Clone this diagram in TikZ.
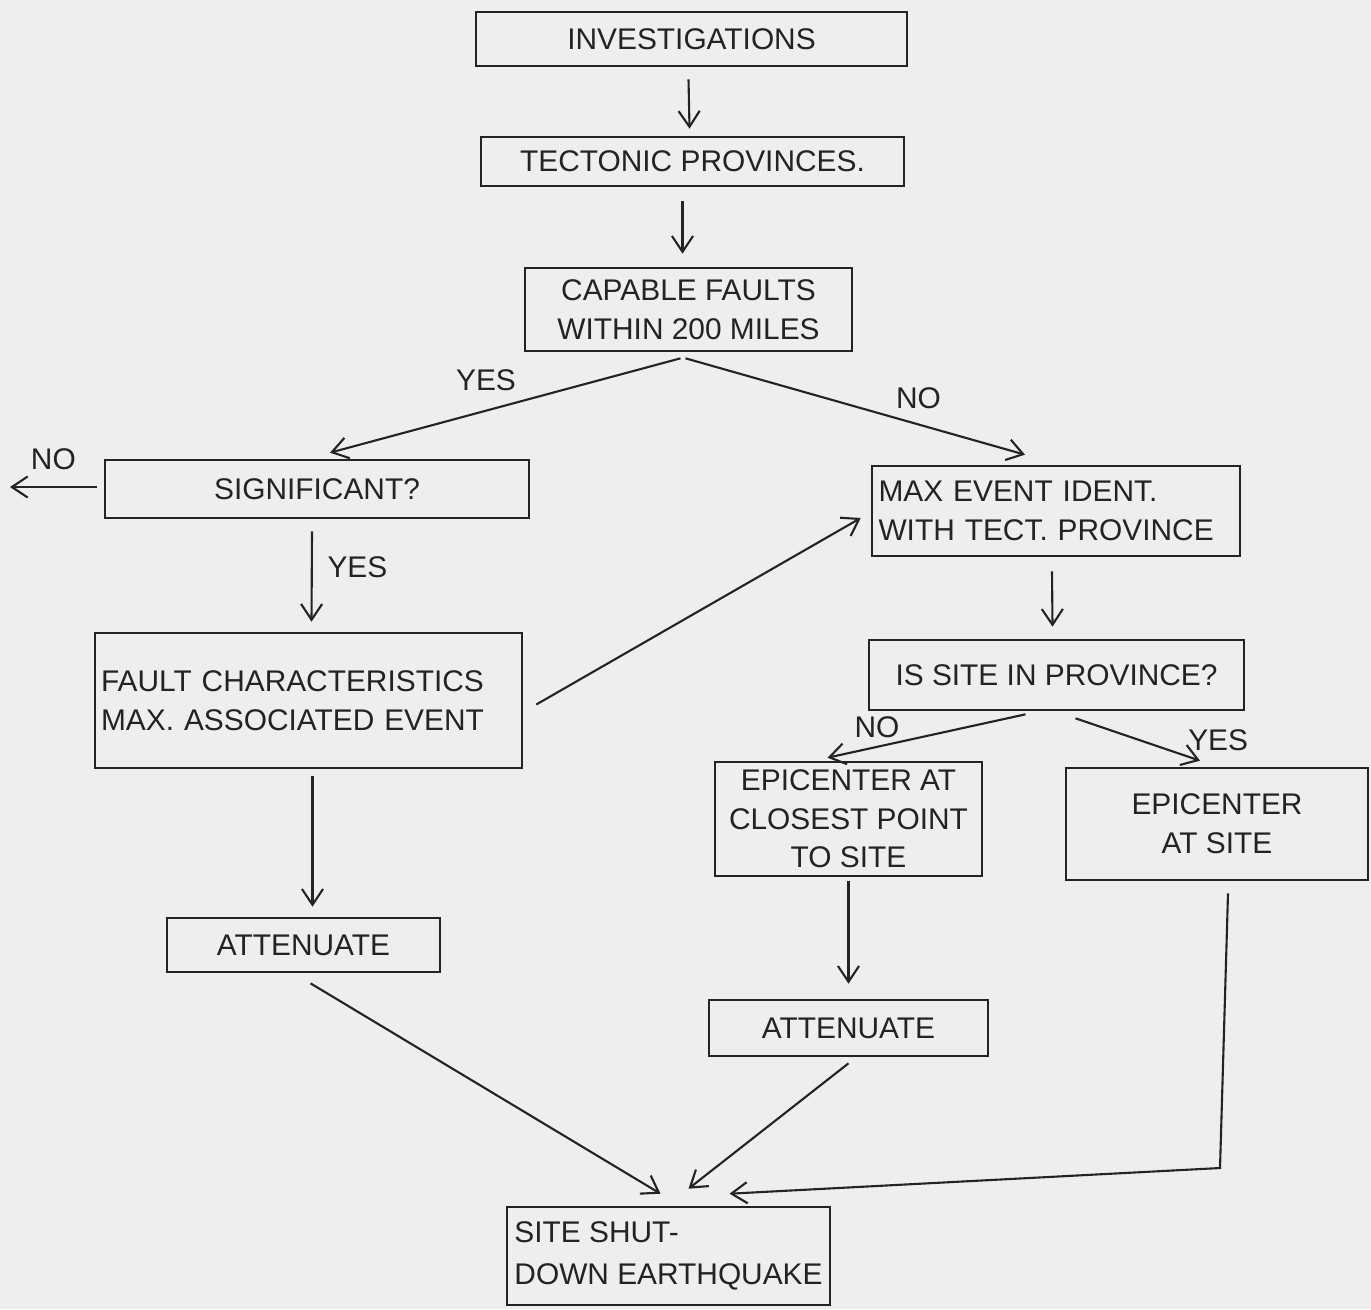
\documentclass[tikz,border=0pt]{standalone}
\usepackage{fontspec}
\setmainfont{Liberation Sans}
\usetikzlibrary{arrows.meta,calc,positioning}
\definecolor{paper}{RGB}{238,238,236}
\definecolor{ink}{RGB}{35,35,35}
\begin{document}
\begin{tikzpicture}[x=0.02cm,y=-0.02cm,
  box/.style={draw=ink,line width=1.5pt,rectangle,inner sep=0pt,font=\fontsize{17}{22}\selectfont,text=ink},
  conn/.style={draw=ink,line width=1.2pt,-{Straight Barb[length=9pt,width=12pt,line width=1.2pt]}},
  lbl/.style={font=\fontsize{17}{20}\selectfont,text=ink}]
\fill[paper] (0,0) rectangle (1371,1309);
\useasboundingbox (0,0) rectangle (1371,1309);

\node[box,minimum width=8.62cm,minimum height=1.08cm] (inv) at (691.5,39) {INVESTIGATIONS};
\node[box,minimum width=8.46cm,minimum height=0.98cm] (tec) at (692.5,161.5) {TECTONIC PROVINCES.};
\node[box,minimum width=6.54cm,minimum height=1.66cm,align=center] (cap) at (688.5,309.5) {CAPABLE FAULTS\\WITHIN 200 MILES};
\node[box,minimum width=8.48cm,minimum height=1.16cm] (sig) at (317,489) {SIGNIFICANT?};
\node[box,minimum width=8.54cm,minimum height=2.7cm,align=left,text width=8.3cm] (flt) at (308.5,700.5) {FAULT CHARACTERISTICS\\MAX. ASSOCIATED EVENT};
\node[box,minimum width=5.46cm,minimum height=1.08cm] (att1) at (303.5,945) {ATTENUATE};
\node[box,minimum width=7.36cm,minimum height=1.8cm,align=left,text width=7.1cm] (max) at (1056,511) {MAX EVENT IDENT.\\WITH TECT. PROVINCE};
\node[box,minimum width=7.5cm,minimum height=1.4cm] (isp) at (1056.5,675) {IS SITE IN PROVINCE?};
\node[box,minimum width=5.34cm,minimum height=2.28cm,align=center] (epc) at (848.5,819) {EPICENTER AT\\CLOSEST POINT\\TO SITE};
\node[box,minimum width=6.04cm,minimum height=2.24cm,align=center] (eps) at (1217,824) {EPICENTER\\AT SITE};
\node[box,minimum width=5.58cm,minimum height=1.12cm] (att2) at (848.5,1028) {ATTENUATE};
\node[box,minimum width=6.46cm,minimum height=1.96cm,align=left,font=\fontsize{17}{24}\selectfont] (sd) at (668.5,1256) {SITE SHUT-\\DOWN EARTHQUAKE};

\coordinate (noend) at (10,487);
\coordinate (bend) at (1220,1168);

\draw[conn] ($(inv.south)+(-3,12)$) -- ($(tec.north)+(-3,-7)$);
\draw[conn] ($(tec.south)+(-10,14)$) -- ($(cap.north)+(-6,-13)$);
\draw[conn] ($(cap.south)+(-8,6)$) -- node[lbl,pos=0.45,above left=2pt and 0pt] {YES} ($(sig.north)+(13,-6)$);
\draw[conn] ($(cap.south)+(-3,6)$) -- node[lbl,pos=0.6,above right=0pt and 0pt] {NO} ($(max.north)+(-31,-10)$);
\draw[conn] ($(sig.west)+(-7,-2)$) -- node[lbl,above=6pt] {NO} (noend);
\draw[conn] ($(sig.south)+(-5,12)$) -- node[lbl,right=5pt,pos=0.4] {YES} ($(flt.north)+(3,-10)$);
\draw[conn] ($(flt.east)+(13,4)$) -- ($(max.west)+(-10,7)$);
\draw[conn] ($(max.south)+(-4,14)$) -- ($(isp.north)+(-4,-12)$);
\draw[conn] ($(isp.south)+(-31,3)$) -- node[lbl,pos=0.75,above=1pt] {NO} ($(epc.north)+(-21,-3)$);
\draw[conn] ($(isp.south)+(19,7)$) -- node[lbl,pos=0.85,above right=-2pt and 0pt] {YES} ($(eps.north)+(-17,-6)$);
\draw[conn] ($(flt.south)+(4,7)$) -- ($(att1.north)+(9,-10)$);
\draw[conn] ($(epc.south)+(0,4)$) -- ($(att2.north)+(0,-15)$);
\draw[conn] ($(att1.south)+(7,10)$) -- ($(sd.north)+(-8,-12)$);
\draw[conn] ($(att2.south)+(0,6)$) -- ($(sd.north)+(20,-17)$);
\draw[conn] ($(eps.south)+(11,12)$) -- (bend) -- ($(sd.north)+(61,-12)$);
\end{tikzpicture}
\end{document}
